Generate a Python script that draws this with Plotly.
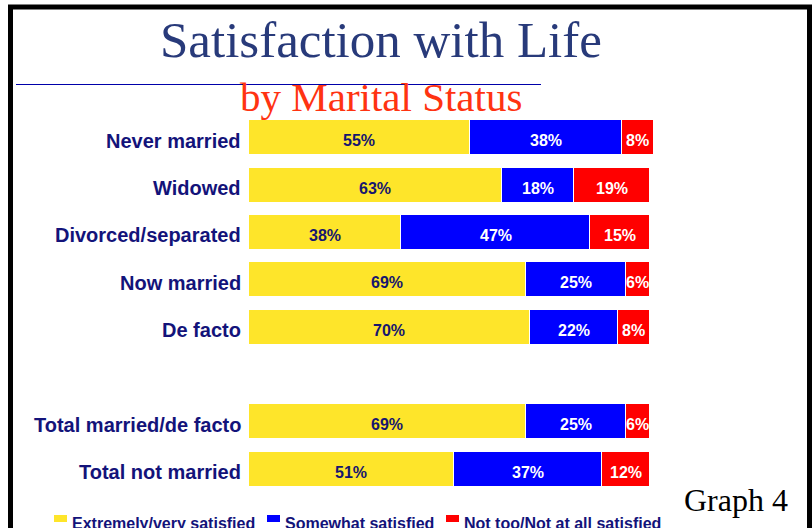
import plotly.graph_objects as go

categories = ["Never married", "Widowed", "Divorced/separated", "Now married",
              "De facto", "Total married/de facto", "Total not married"]
positions = [0, 1, 2, 3, 4, 6, 7]
series_names = ["Extremely/very satisfied", "Somewhat satisfied", "Not too/Not at all satisfied"]
extremely = [55, 63, 38, 69, 70, 69, 51]
somewhat = [38, 18, 47, 25, 22, 25, 37]
not_too = [8, 19, 15, 6, 8, 6, 12]
series_values = [extremely, somewhat, not_too]

colors = ["#FEE52A", "#0000FF", "#FF0000"]
text_colors = ["#16166E", "#FFFFFF", "#FFFFFF"]
NAVY = "#13137A"

W, H = 812, 528
L, R, T, B = 249, 654, 114, 493


def px(x):
    return (x - L) / (R - L)


def py(y):
    return (B - y) / (B - T)


fig = go.Figure()
for name, vals, col in zip(series_names, series_values, colors):
    fig.add_trace(go.Bar(
        y=positions, x=vals, orientation="h", name=name,
        marker=dict(color=col, line=dict(color="white", width=1)),
        width=0.74, showlegend=False, textposition="none",
    ))

annotations = []
# category labels
for cat, pos in zip(categories, positions):
    annotations.append(dict(
        x=px(243), y=pos, xref="paper", yref="y", text=cat,
        showarrow=False, xanchor="right", yanchor="middle", yshift=-3,
        font=dict(family="Liberation Sans, Arial", size=20, weight="bold", color=NAVY),
    ))
# value labels inside segments
for i, pos in enumerate(positions):
    start = 0
    for s, vals in enumerate(series_values):
        v = vals[i]
        annotations.append(dict(
            x=start + v / 2, y=pos, xref="x", yref="y", text=f"{v}%",
            showarrow=False, xanchor="center", yanchor="middle", yshift=-3,
            font=dict(family="Liberation Sans, Arial", size=16, weight="bold",
                      color=text_colors[s]),
        ))
        start += v

# titles
annotations.append(dict(x=px(381), y=py(40), xref="paper", yref="paper",
                        text="Satisfaction with Life", showarrow=False,
                        xanchor="center", yanchor="middle",
                        font=dict(family="Liberation Serif, Times New Roman", size=51,
                                  color="#283A7A")))
annotations.append(dict(x=px(381), y=py(97), xref="paper", yref="paper",
                        text="by Marital Status", showarrow=False,
                        xanchor="center", yanchor="middle",
                        font=dict(family="Liberation Serif, Times New Roman", size=41,
                                  color="#FF3311")))
annotations.append(dict(x=px(736), y=py(500), xref="paper", yref="paper",
                        text="Graph 4", showarrow=False,
                        xanchor="center", yanchor="middle",
                        font=dict(family="Liberation Serif, Times New Roman", size=32,
                                  color="#000000")))

shapes = []
# legend (manual)
leg_sq_x = [54, 267, 446]
for name, col, sx in zip(series_names, colors, leg_sq_x):
    shapes.append(dict(type="rect", xref="paper", yref="paper",
                       x0=px(sx), x1=px(sx + 13), y0=py(522), y1=py(515),
                       fillcolor=col, line=dict(width=0)))
    annotations.append(dict(x=px(sx + 16), y=py(523), xref="paper", yref="paper",
                            text=name, showarrow=False, xanchor="left", yanchor="middle",
                            font=dict(family="Liberation Sans, Arial", size=16,
                                      weight="bold", color=NAVY)))

# blue rule under title
shapes.append(dict(type="line", xref="paper", yref="paper",
                   x0=px(16), x1=px(541), y0=py(84.5), y1=py(84.5),
                   line=dict(color="#0000AA", width=1)))
# black frame
shapes.append(dict(type="rect", xref="paper", yref="paper",
                   x0=px(10.5), x1=px(809.5), y0=py(560), y1=py(7),
                   line=dict(color="black", width=5), fillcolor="rgba(0,0,0,0)"))

fig.update_layout(
    barmode="stack", bargap=0,
    width=W, height=H,
    margin=dict(l=L, r=W - R, t=T, b=H - B, pad=0),
    plot_bgcolor="white", paper_bgcolor="white",
    xaxis=dict(range=[0, 101], visible=False, fixedrange=True),
    yaxis=dict(range=[7.5, -0.5], tickvals=positions, showticklabels=False,
               showgrid=False, zeroline=False, showline=False, ticks="",
               fixedrange=True),
    annotations=annotations, shapes=shapes,
)

fig.write_html("out.html", config={"displayModeBar": False},
               post_script="document.body.style.margin='0';document.body.style.padding='0';document.body.style.overflow='hidden';")
